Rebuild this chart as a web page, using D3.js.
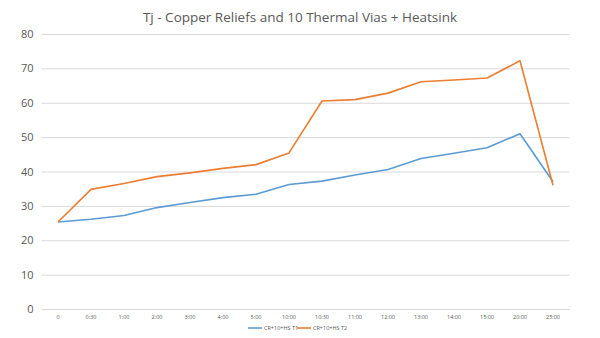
<!DOCTYPE html>
<html>
<head>
<meta charset="utf-8">
<script src="https://cdn.jsdelivr.net/npm/d3@7"></script>
<style>
  html, body { margin: 0; padding: 0; background: #fff; }
  svg { display: block; font-family: "Open Sans", "Liberation Sans", sans-serif; }
</style>
</head>
<body>
<svg id="chart" width="600" height="338"></svg>
<script>
// Time points (x categories)
const categories = ["0", "0:30", "1:00", "2:00", "3:00", "4:00", "5:00", "10:00", "10:30",
                    "11:00", "12:00", "13:00", "14:00", "15:00", "20:00", "25:00"];
// Junction temperature per series
const seriesT1 = [25.3, 26.1, 27.2, 29.5, 31.0, 32.4, 33.4, 36.2, 37.2, 39.0, 40.6, 43.8, 45.3, 46.9, 51.0, 37.0];
const seriesT2 = [25.3, 34.8, 36.5, 38.5, 39.6, 40.9, 42.0, 45.4, 60.5, 60.9, 62.8, 66.1, 66.6, 67.2, 72.2, 36.0];
const seriesNames = ["CR+10+HS T1", "CR+10+HS T2"];
const yTicks = [0, 10, 20, 30, 40, 50, 60, 70, 80];
const title = "Tj - Copper Reliefs and 10 Thermal Vias + Heatsink";

const colors = ["#5B9BD5", "#ED7D31"];
const svg = d3.select("#chart");

const plot = { left: 41.5, right: 569.5, top: 34, bottom: 309 };

const x = d3.scaleBand().domain(categories).range([plot.left, plot.right]).padding(0);
const y = d3.scaleLinear().domain([0, 80]).range([plot.bottom, plot.top]);

// Title
svg.append("text")
  .attr("x", 300).attr("y", 22)
  .attr("text-anchor", "middle")
  .attr("font-size", 13.5)
  .attr("fill", "#595959")
  .text(title);

// Horizontal gridlines
const yAxis = d3.axisLeft(y).tickValues(yTicks).tickSize(-(plot.right - plot.left)).tickPadding(8);
const gy = svg.append("g").attr("transform", `translate(${plot.left},0)`).call(yAxis);
gy.select(".domain").remove();
gy.selectAll(".tick line").attr("stroke", "#D9D9D9").attr("stroke-width", 1);
gy.selectAll(".tick text")
  .attr("fill", "#595959")
  .attr("font-size", 11)
  .attr("font-family", "\"Open Sans\", \"Liberation Sans\", sans-serif");

// X axis labels
const xAxis = d3.axisBottom(x).tickSize(0).tickPadding(6);
const gx = svg.append("g").attr("transform", `translate(0,${plot.bottom})`).call(xAxis);
gx.select(".domain").attr("stroke", "#D9D9D9");
gx.selectAll(".tick text")
  .attr("fill", "#595959")
  .attr("font-size", 5.5)
  .attr("font-family", "\"Open Sans\", \"Liberation Sans\", sans-serif");

// Lines
const line = d3.line()
  .x((d, i) => x(categories[i]) + x.bandwidth() / 2)
  .y(d => y(d));

[seriesT1, seriesT2].forEach((s, i) => {
  svg.append("path")
    .datum(s)
    .attr("fill", "none")
    .attr("stroke", colors[i])
    .attr("stroke-width", 1.6)
    .attr("stroke-linejoin", "round")
    .attr("d", line);
});

// Legend
const legend = svg.append("g").attr("transform", "translate(0,328)");
const legendX = [248, 297];
seriesNames.forEach((name, i) => {
  legend.append("line")
    .attr("x1", legendX[i]).attr("x2", legendX[i] + 14)
    .attr("y1", 0).attr("y2", 0)
    .attr("stroke", colors[i]).attr("stroke-width", 1.6);
  legend.append("text")
    .attr("x", legendX[i] + 16).attr("y", 2)
    .attr("font-size", 5.5)
    .attr("fill", "#595959")
    .text(name);
});
</script>
</body>
</html>
